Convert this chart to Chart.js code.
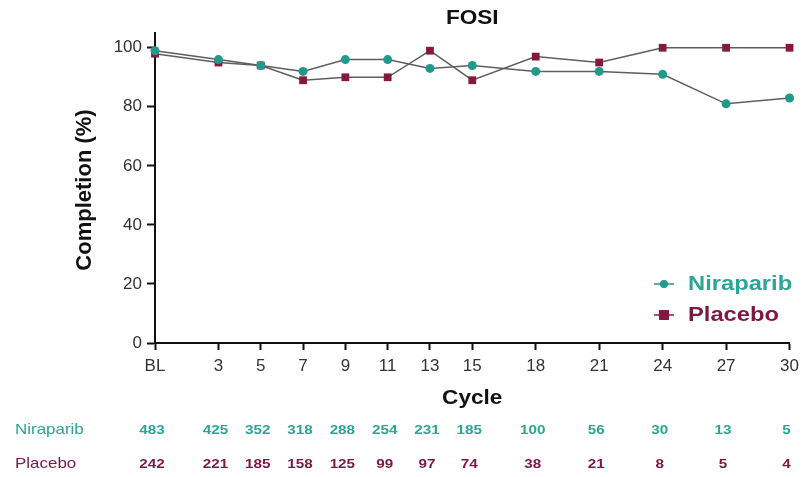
<!DOCTYPE html>
<html>
<head>
<meta charset="utf-8">
<script src="https://cdn.jsdelivr.net/npm/chart.js@4/dist/chart.umd.min.js"></script>
<style>
  html, body { margin: 0; padding: 0; background: #fff; }
  #wrap { width: 805px; height: 477px; }
</style>
</head>
<body>
<div id="wrap"><canvas id="c" width="805" height="477"></canvas></div>
<script>
// Questionnaire completion by treatment cycle (BL = baseline, plotted at cycle 0)
const cycles        = [0, 3, 5, 7, 9, 11, 13, 15, 18, 21, 24, 27, 30];
const cycleLabels   = ['BL', '3', '5', '7', '9', '11', '13', '15', '18', '21', '24', '27', '30'];
const niraparibPct  = [99, 96, 94, 92, 96, 96, 93, 94, 92, 92, 91, 81, 83];
const placeboPct    = [98, 95, 94, 89, 90, 90, 99, 89, 97, 95, 100, 100, 100];
// Patients at risk at each cycle
const niraparibN    = [483, 425, 352, 318, 288, 254, 231, 185, 100, 56, 30, 13, 5];
const placeboN      = [242, 221, 185, 158, 125, 99, 97, 74, 38, 21, 8, 5, 4];
const yTicks        = [0, 20, 40, 60, 80, 100];

const TEAL = '#23998a';
const TEAL_TEXT = '#2aa596';
const MAROON = '#86173e';
const MAROON_TEXT = '#7d1840';
const LINE_GREY = '#5e5e5e';
const FONT = '"Liberation Sans", Arial, sans-serif';
const SX = 1.13; // slight horizontal widening of the annotation text

function wideText(ctx, text, x, y, font, color, align) {
  ctx.save();
  ctx.font = font;
  ctx.fillStyle = color;
  ctx.textBaseline = 'middle';
  const w = ctx.measureText(text).width * SX;
  let left = x;
  if (align === 'center') left = x - w / 2;
  else if (align === 'right') left = x - w;
  ctx.translate(left, y);
  ctx.scale(SX, 1);
  ctx.textAlign = 'left';
  ctx.fillText(text, 0, 0);
  ctx.restore();
}

const annotations = {
  id: 'annotations',
  afterDraw(chart) {
    const ctx = chart.ctx;
    const xs = chart.scales.x;
    const area = chart.chartArea;
    const midX = (area.left + area.right) / 2;

    // Title
    wideText(ctx, 'FOSI', midX, 18, 'bold 20px ' + FONT, '#111', 'center');

    // Y axis title
    ctx.save();
    ctx.translate(85, (area.top + area.bottom) / 2 + 2);
    ctx.rotate(-Math.PI / 2);
    ctx.font = 'bold 22px ' + FONT;
    ctx.fillStyle = '#111';
    ctx.textAlign = 'center';
    ctx.textBaseline = 'middle';
    ctx.fillText('Completion (%)', 0, 0);
    ctx.restore();

    // X axis title
    wideText(ctx, 'Cycle', midX, area.bottom + 55, 'bold 20px ' + FONT, '#111', 'center');

    // Legend: short line with the series marker, then the label
    const legendRows = [
      { ds: 0, y: 284, text: TEAL_TEXT },
      { ds: 1, y: 315, text: MAROON_TEXT }
    ];
    legendRows.forEach(r => {
      const d = chart.data.datasets[r.ds];
      const cx = 664;
      ctx.save();
      ctx.strokeStyle = d.pointBackgroundColor;
      ctx.lineWidth = 1.5;
      ctx.beginPath();
      ctx.moveTo(cx - 10, r.y);
      ctx.lineTo(cx + 10, r.y);
      ctx.stroke();
      ctx.fillStyle = d.pointBackgroundColor;
      if (d.pointStyle === 'rect') {
        ctx.fillRect(cx - 5, r.y - 5, 10, 10);
      } else {
        ctx.beginPath();
        ctx.arc(cx, r.y, 4, 0, Math.PI * 2);
        ctx.fill();
      }
      ctx.restore();
      wideText(ctx, d.label, 688, r.y, 'bold 21px ' + FONT, r.text, 'left');
    });

    // Numbers-at-risk table
    const rows = [
      { label: 'Niraparib', values: niraparibN, y: 430, color: TEAL_TEXT },
      { label: 'Placebo', values: placeboN, y: 464, color: MAROON_TEXT }
    ];
    rows.forEach(r => {
      wideText(ctx, r.label, 15, r.y, '15px ' + FONT, r.color, 'left');
      r.values.forEach((v, i) => {
        wideText(ctx, String(v), xs.getPixelForValue(cycles[i]) - 3, r.y, 'bold 13.5px ' + FONT, r.color, 'center');
      });
    });
  }
};

new Chart(document.getElementById('c'), {
  type: 'line',
  data: {
    datasets: [
      {
        label: 'Niraparib',
        data: cycles.map((c, i) => ({ x: c, y: niraparibPct[i] })),
        borderColor: LINE_GREY,
        borderWidth: 1.5,
        pointStyle: 'circle',
        pointRadius: 4.5,
        pointBackgroundColor: TEAL,
        pointBorderColor: TEAL,
        pointBorderWidth: 0,
        tension: 0
      },
      {
        label: 'Placebo',
        data: cycles.map((c, i) => ({ x: c, y: placeboPct[i] })),
        borderColor: LINE_GREY,
        borderWidth: 1.5,
        pointStyle: 'rect',
        pointRadius: 5.5,
        pointBackgroundColor: MAROON,
        pointBorderColor: MAROON,
        pointBorderWidth: 0,
        tension: 0
      }
    ]
  },
  options: {
    responsive: false,
    animation: false,
    devicePixelRatio: 1,
    clip: false,
    layout: { padding: { left: 0, right: 15, top: 33, bottom: 0 } },
    plugins: {
      legend: { display: false },
      title: { display: false },
      tooltip: { enabled: false }
    },
    scales: {
      x: {
        type: 'linear',
        min: 0,
        max: 30,
        afterFit(scale) { scale.height = 134; },
        afterBuildTicks(scale) { scale.ticks = cycles.map(v => ({ value: v })); },
        border: { display: true, color: '#111', width: 2 },
        grid: { drawOnChartArea: false, drawTicks: true, tickLength: 7, tickWidth: 2, tickColor: '#111' },
        ticks: {
          autoSkip: false,
          maxRotation: 0,
          padding: 6,
          color: '#333',
          font: { family: FONT, size: 17 },
          callback: (v) => cycleLabels[cycles.indexOf(v)]
        }
      },
      y: {
        min: 0,
        max: 105,
        afterFit(scale) { scale.width = 155; },
        afterBuildTicks(scale) { scale.ticks = yTicks.map(v => ({ value: v })); },
        border: { display: true, color: '#111', width: 2 },
        grid: { drawOnChartArea: false, drawTicks: true, tickLength: 8, tickWidth: 2, tickColor: '#111' },
        ticks: {
          padding: 5,
          color: '#333',
          font: { family: FONT, size: 17 }
        }
      }
    }
  },
  plugins: [annotations]
});
</script>
</body>
</html>
